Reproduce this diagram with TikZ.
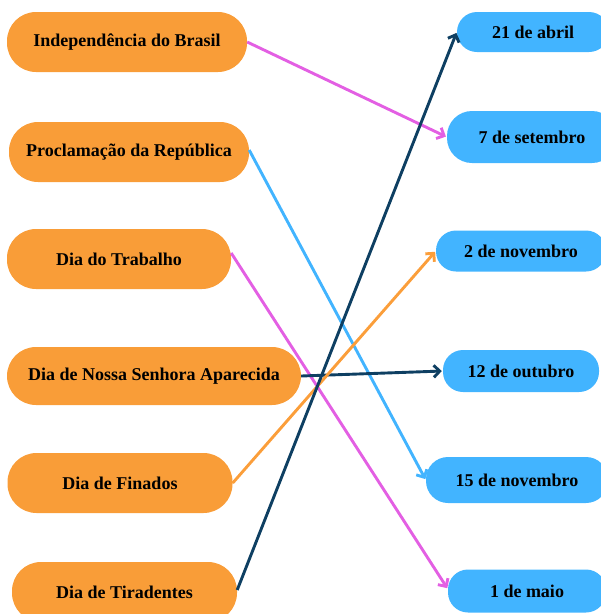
\documentclass[tikz,border=0pt]{standalone}
\usepackage{fontspec}
\setmainfont{Liberation Serif}
\usetikzlibrary{arrows.meta}
\definecolor{boxorange}{HTML}{F99D38}
\definecolor{boxblue}{HTML}{42B4FF}
\definecolor{lnpink}{HTML}{E35FE3}
\definecolor{lnblue}{HTML}{42B4FF}
\definecolor{lnorange}{HTML}{FB9E3A}
\definecolor{lnnavy}{HTML}{0E3F62}
\tikzset{
  lbox/.style={fill=boxorange, rounded corners=29pt, minimum height=60pt, inner sep=0pt,
    font=\fontsize{18}{21}\selectfont\bfseries, text=black},
  rbox/.style={fill=boxblue, rounded corners=20pt, inner sep=0pt,
    font=\fontsize{18}{21}\selectfont\bfseries, text=black},
  link/.style={line width=2.9pt, -{Straight Barb[length=6pt,width=12pt,line width=2.9pt]}, shorten >=1pt},
}
\begin{document}
\begin{tikzpicture}[x=1pt,y=-1pt]
\useasboundingbox (0,0) rectangle (601,614);
\clip (0,0) rectangle (601,614);
% left boxes
\node[lbox, minimum width=240pt] (l1) at (127,42) {Independência do Brasil};
\node[lbox, minimum width=240pt] (l2) at (129,152) {Proclamação da República};
\node[lbox, minimum width=224pt] (l3) at (119,259) {Dia do Trabalho};
\node[lbox, minimum width=294pt, minimum height=58pt] (l4) at (154,376) {Dia de Nossa Senhora Aparecida};
\node[lbox, minimum width=225pt] (l5) at (120,483) {Dia de Finados};
\node[lbox, minimum width=225pt] (l6) at (124.5,592) {Dia de Tiradentes};
% right boxes
\node[rbox, minimum width=152pt, minimum height=40pt] (r1) at (533,32) {21 de abril};
\node[rbox, minimum width=170pt, minimum height=52pt, rounded corners=25pt] (r2) at (532,137) {7 de setembro};
\node[rbox, minimum width=170pt, minimum height=41pt] (r3) at (521,251) {2 de novembro};
\node[rbox, minimum width=156pt, minimum height=42pt] (r4) at (521,371) {12 de outubro};
\node[rbox, minimum width=182pt, minimum height=46pt, rounded corners=22pt] (r5) at (517,480) {15 de novembro};
\node[rbox, minimum width=158pt, minimum height=43pt] (r6) at (527,591) {1 de maio};
% links
\draw[link, lnpink] (l1.east) -- (r2.west);
\draw[link, lnblue] ([yshift=2pt]l2.east) -- (r5.west);
\draw[link, lnpink] ([yshift=6pt]l3.east) -- ([yshift=2pt]r6.west);
\draw[link, lnnavy] (l4.east) -- (r4.west);
\draw[link, lnorange] (l5.east) -- (r3.west);
\draw[link, lnnavy] ([yshift=2pt]l6.east) -- (r1.west);
\end{tikzpicture}
\end{document}
